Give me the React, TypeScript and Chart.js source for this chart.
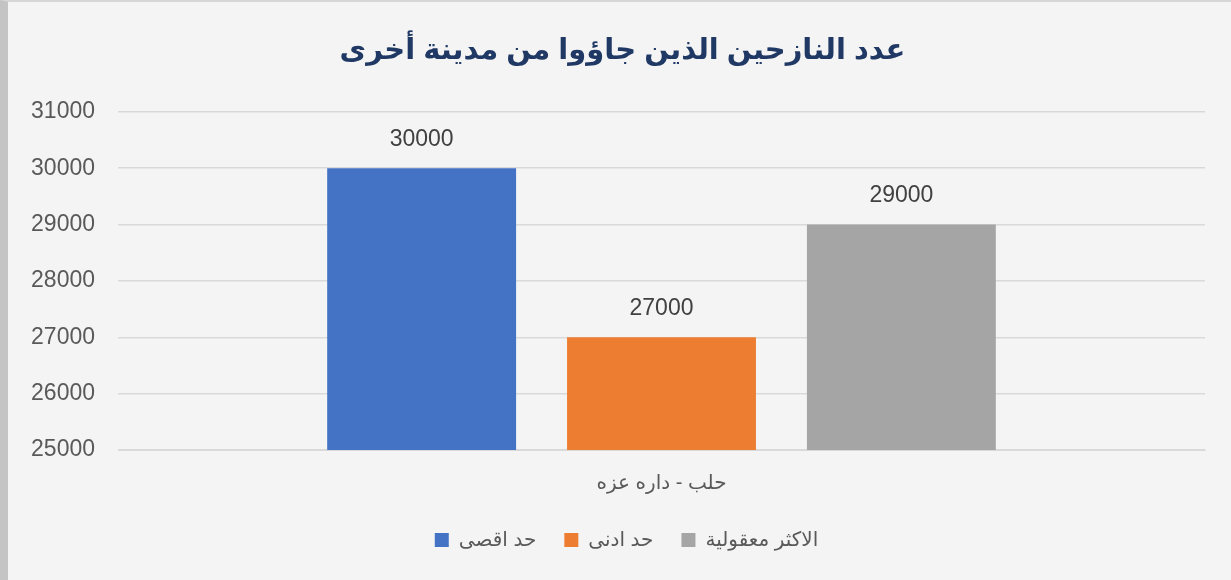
import React, { useEffect, useRef } from "react";
import { Chart, registerables } from "chart.js";

Chart.register(...registerables);

const titleText = "عدد النازحين الذين جاؤوا من مدينة أخرى";
const categories = ["حلب - داره عزه"];
const seriesNames = ["حد اقصى", "حد ادنى", "الاكثر معقولية"];
const maxValues = [30000];
const minValues = [27000];
const likelyValues = [29000];
const seriesColors = ["#4472C4", "#ED7D31", "#A5A5A5"];
const yMin = 25000;
const yMax = 31000;
const yStep = 1000;

const FONT = "'Liberation Sans', 'DejaVu Sans', Arial, sans-serif";

const dataLabels = {
  id: "dataLabels",
  afterDatasetsDraw(chart: any) {
    const ctx = chart.ctx;
    ctx.save();
    ctx.font = `23px ${FONT}`;
    ctx.fillStyle = "#404040";
    ctx.textAlign = "center";
    ctx.textBaseline = "bottom";
    chart.data.datasets.forEach((ds: any, i: number) => {
      const meta = chart.getDatasetMeta(i);
      meta.data.forEach((bar: any, j: number) => {
        ctx.fillText(String(ds.data[j]), bar.x, bar.y - 17);
      });
    });
    ctx.restore();
  },
};

// Excel centres the title and legend on the whole chart frame, slightly right of Chart.js's box
const shiftBoxes = {
  id: "shiftBoxes",
  afterLayout(chart: any) {
    if (chart.titleBlock) {
      chart.titleBlock.left += 32;
    }
    if (chart.legend) {
      chart.legend.left += 40;
      chart.legend.top -= 6;
      chart.legend.bottom -= 6;
    }
  },
};

export default function App() {
  const ref = useRef<HTMLCanvasElement>(null);
  useEffect(() => {
    document.body.style.margin = "0";
    const chart = new Chart(ref.current!, {
      type: "bar",
      data: {
        labels: categories,
        datasets: [
          { label: seriesNames[0], data: maxValues, backgroundColor: seriesColors[0] },
          { label: seriesNames[1], data: minValues, backgroundColor: seriesColors[1] },
          { label: seriesNames[2], data: likelyValues, backgroundColor: seriesColors[2] },
        ],
      },
      options: {
        animation: false,
        responsive: false,
        maintainAspectRatio: false,
        layout: { padding: { left: 0, right: 26, top: 32, bottom: 14 } },
        datasets: { bar: { categoryPercentage: 0.662, barPercentage: 0.7875 } },
        scales: {
          x: {
            grid: { display: false },
            border: { display: true, color: "#d9d9d9" },
            ticks: { color: "#595959", font: { family: FONT, size: 20 }, padding: 13 },
          },
          y: {
            min: yMin,
            max: yMax,
            afterFit: (s: any) => { s.width = 110; },
            grid: { color: "#d9d9d9", lineWidth: 1.5, drawTicks: false },
            border: { display: false },
            ticks: {
              stepSize: yStep,
              color: "#595959",
              font: { family: FONT, size: 23 },
              padding: 23,
              callback: (v: any) => String(v),
            },
          },
        },
        plugins: {
          title: {
            display: true,
            text: titleText,
            color: "#1F3864",
            font: { family: FONT, size: 29, weight: "bold" },
            padding: { top: 0, bottom: 43 },
          },
          legend: {
            position: "bottom",
            labels: {
              color: "#595959",
              font: { family: FONT, size: 20 },
              boxWidth: 14,
              boxHeight: 14,
              padding: 28,
            },
          },
          tooltip: { enabled: false },
        },
      },
      plugins: [dataLabels, shiftBoxes],
    });
    return () => chart.destroy();
  }, []);
  return (
    <div
      style={{
        width: 1231,
        height: 580,
        background: "#f4f4f4",
        boxSizing: "border-box",
        borderLeft: "8px solid #c4c4c4",
        borderTop: "2px solid #d6d6d6",
        position: "relative",
        overflow: "hidden",
      }}
    >
      <canvas ref={ref} width={1223} height={578} style={{ display: "block" }} />
    </div>
  );
}
